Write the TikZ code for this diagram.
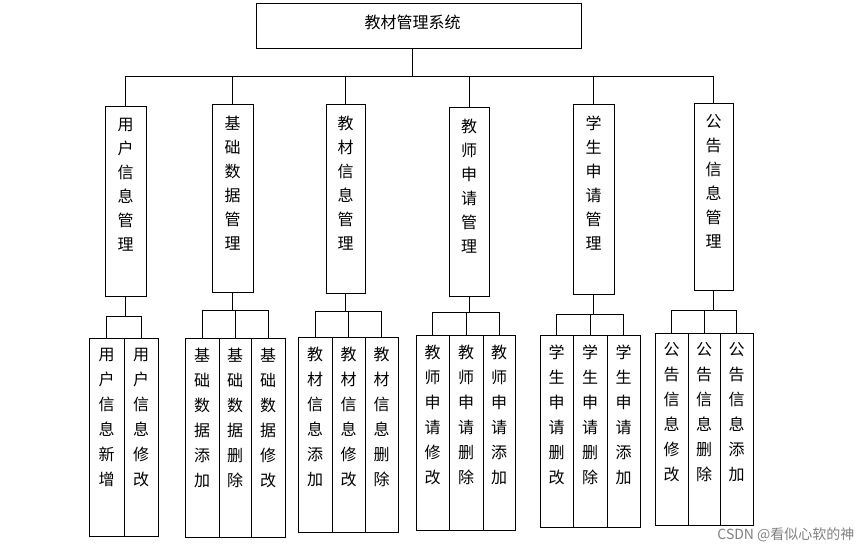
\documentclass[tikz,border=0pt]{standalone}
\usepackage{fontspec}
\setmainfont{Noto Sans CJK SC}
\begin{document}
\begin{tikzpicture}[x=1pt,y=-1pt,
  box/.style={draw,line width=0.8pt,inner sep=0pt},
  lbl/.style={anchor=north,align=center,font=\fontsize{16}{24}\selectfont,inner sep=0pt},
  lblc/.style={anchor=north,align=center,font=\fontsize{16}{25}\selectfont,inner sep=0pt},
  conn/.style={line width=0.8pt}]
\useasboundingbox (0,0) rectangle (868,553);
% top
\node[box,minimum width=325pt,minimum height=45pt] (top) at (418.5,25.5) {};
\node[font=\fontsize{16}{18}\selectfont] (toptext) at ([xshift=-6pt,yshift=3pt]top.center) {教材管理系统};
\coordinate (bus) at (412,76);
% level 2
\newcommand{\mybox}[6]{% name, x1, x2, y1, y2, text
  \node[box,minimum width={(#3-#2)*1pt},minimum height={(#5-#4)*1pt}] (#1) at ({(#2+#3)/2},{(#4+#5)/2}) {};}
\mybox{b1}{105}{146}{106}{296}{}
\mybox{b2}{212}{253}{104}{292}{}
\mybox{b3}{326}{365}{104}{293}{}
\mybox{b4}{449}{489}{107}{296}{}
\mybox{b5}{573}{614}{104}{294}{}
\mybox{b6}{694}{733}{103}{290}{}
\node[lbl] (t1) at ([yshift=-12pt]b1.north) {用\\户\\信\\息\\管\\理};
\node[lbl] (t2) at ([yshift=-12pt]b2.north) {基\\础\\数\\据\\管\\理};
\node[lbl] (t3) at ([yshift=-12pt]b3.north) {教\\材\\信\\息\\管\\理};
\node[lbl] (t4) at ([yshift=-12pt]b4.north) {教\\师\\申\\请\\管\\理};
\node[lbl] (t5) at ([yshift=-12pt]b5.north) {学\\生\\申\\请\\管\\理};
\node[lbl] (t6) at ([yshift=-12pt]b6.north) {公\\告\\信\\息\\管\\理};
\draw[conn] (bus |- top.south) -- (bus);
\draw[conn] (b1.north |- bus) -- (b6.north |- bus);
\foreach \b in {b1,b2,b3,b4,b5,b6} \draw[conn] (\b.north) -- (\b.north |- bus);
% level 3
\mybox{c11}{89}{124}{338}{536}{}
\mybox{c12}{124}{158}{338}{536}{}
\mybox{c21}{185}{219}{338}{537}{}
\mybox{c22}{219}{251}{338}{537}{}
\mybox{c23}{251}{285}{338}{537}{}
\mybox{c31}{298}{332}{337}{532}{}
\mybox{c32}{332}{365}{337}{532}{}
\mybox{c33}{365}{398}{337}{532}{}
\mybox{c41}{416}{449}{335}{530}{}
\mybox{c42}{449}{483}{335}{530}{}
\mybox{c43}{483}{515}{335}{530}{}
\mybox{c51}{540}{573}{335}{527}{}
\mybox{c52}{573}{607}{335}{527}{}
\mybox{c53}{607}{640}{335}{527}{}
\mybox{c61}{655}{688}{333}{525}{}
\mybox{c62}{688}{720}{333}{525}{}
\mybox{c63}{720}{753}{333}{525}{}
\node[lblc] at ([yshift=-10pt]c11.north) {用\\户\\信\\息\\新\\增};
\node[lblc] at ([yshift=-10pt]c12.north) {用\\户\\信\\息\\修\\改};
\node[lblc] at ([yshift=-10pt]c21.north) {基\\础\\数\\据\\添\\加};
\node[lblc] at ([yshift=-10pt]c22.north) {基\\础\\数\\据\\删\\除};
\node[lblc] at ([yshift=-10pt]c23.north) {基\\础\\数\\据\\修\\改};
\node[lblc] at ([yshift=-10pt]c31.north) {教\\材\\信\\息\\添\\加};
\node[lblc] at ([yshift=-10pt]c32.north) {教\\材\\信\\息\\修\\改};
\node[lblc] at ([yshift=-10pt]c33.north) {教\\材\\信\\息\\删\\除};
\node[lblc] at ([yshift=-10pt]c41.north) {教\\师\\申\\请\\修\\改};
\node[lblc] at ([yshift=-10pt]c42.north) {教\\师\\申\\请\\删\\除};
\node[lblc] at ([yshift=-10pt]c43.north) {教\\师\\申\\请\\添\\加};
\node[lblc] at ([yshift=-10pt]c51.north) {学\\生\\申\\请\\删\\改};
\node[lblc] at ([yshift=-10pt]c52.north) {学\\生\\申\\请\\删\\除};
\node[lblc] at ([yshift=-10pt]c53.north) {学\\生\\申\\请\\添\\加};
\node[lblc] at ([yshift=-10pt]c61.north) {公\\告\\信\\息\\修\\改};
\node[lblc] at ([yshift=-10pt]c62.north) {公\\告\\信\\息\\删\\除};
\node[lblc] at ([yshift=-10pt]c63.north) {公\\告\\信\\息\\添\\加};
% brackets
\coordinate (g1) at (0,316);
\coordinate (g2) at (0,310);
\coordinate (g3) at (0,311);
\coordinate (g4) at (0,312);
\coordinate (g5) at (0,314);
\coordinate (g6) at (0,310);
\draw[conn] (b1.south) -- (b1.south |- g1);
\draw[conn] (c11.north |- g1) -- (c12.north |- g1);
\foreach \c in {c11,c12} \draw[conn] (\c.north) -- (\c.north |- g1);
\foreach \i in {2,...,6}{
  \draw[conn] (b\i.south) -- (b\i.south |- g\i);
  \draw[conn] (c\i1.north |- g\i) -- (c\i3.north |- g\i);
  \foreach \j in {1,2,3} \draw[conn] (c\i\j.north) -- (c\i\j.north |- g\i);
}
\node[anchor=east,text=gray,font=\fontsize{14}{16}\selectfont] (wm) at (858,535) {CSDN @看似心软的神};
\end{tikzpicture}
\end{document}
